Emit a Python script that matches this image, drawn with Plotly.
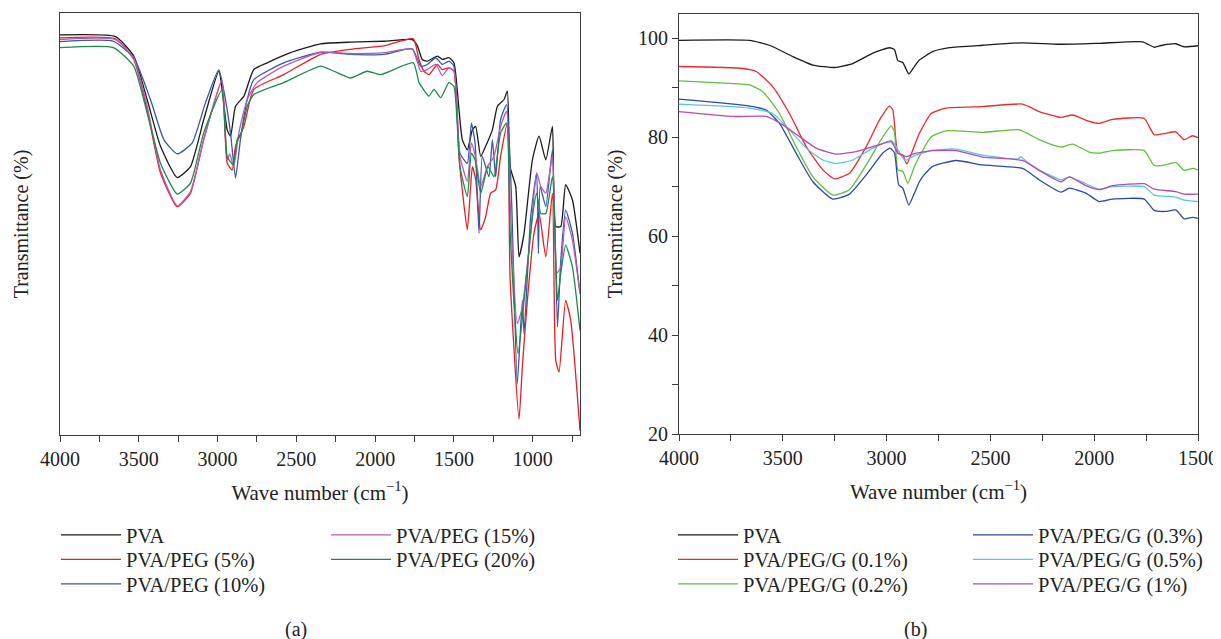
import plotly.graph_objects as go

# ---------------- Panel (a) data (relative transmittance, arbitrary scale) ----------------
a_pva_wn = [4000,3648,3532,3447,3362,3256,3172,3088,2992,2939,2918,2886,2833,2770,2685,2537,2346,2156,1944,1764,
            1732,1701,1669,1605,1574,1532,1500,1468,1447,1415,1383,1362,1330,1299,1256,1224,1182,1161,1144,1108,
            1087,1055,1002,960,917,875,854,822,791,748,700]
a_pva_t = [94.8,94.4,89.8,79.5,68.4,61.0,63.6,74.7,86.2,72.3,70.8,77.9,80.3,86.6,88.2,90.6,92.7,93.1,93.3,93.7,
           92.2,89.0,88.6,89.8,89.0,89.4,88.2,77.1,70.0,67.6,72.3,73.1,66.0,68.4,72.3,77.9,79.5,81.5,63.6,58.9,
           42.2,47.8,65.2,70.8,65.2,73.1,49.4,49.4,59.3,55.7,43.1]

a_peg5_wn = [4000,3648,3532,3447,3362,3256,3172,3088,2973,2939,2907,2886,2833,2770,2580,2346,2156,1944,1758,1722,
             1690,1659,1605,1574,1532,1500,1468,1440,1415,1394,1383,1362,1330,1299,1267,1235,1204,1161,1144,1087,
             1066,1034,992,960,917,875,854,833,791,759,700]
a_peg5_t = [94.1,93.9,89.0,77.1,62.1,54.1,57.3,70.0,83.8,64.4,62.8,68.4,73.1,81.9,85.4,90.2,91.4,92.2,93.9,89.0,
            86.2,85.4,87.8,86.6,87.0,86.2,66.0,55.7,48.6,58.9,63.6,60.5,48.6,51.7,57.3,58.1,66.0,73.9,37.5,3.8,
            16.1,31.9,47.8,52.5,42.2,57.3,17.7,14.9,31.9,27.2,1.0]

a_peg10_wn = [4000,3661,3532,3426,3341,3256,3161,3077,2992,2950,2918,2886,2855,2812,2770,2580,2346,2156,1944,1764,
              1711,1669,1616,1574,1532,1500,1462,1415,1389,1366,1341,1320,1278,1256,1235,1204,1166,1135,1098,1066,
              1055,1013,975,964,953,917,875,843,822,791,748,700]
a_peg10_t = [93.2,93.3,89.4,79.5,70.0,66.6,69.2,78.7,86.6,79.5,71.6,60.9,70.0,79.5,84.2,88.2,90.7,90.2,90.2,91.5,
             87.4,87.8,89.4,87.8,88.6,87.4,66.8,64.4,73.9,69.2,47.8,66.0,61.2,70.0,61.2,74.7,78.3,56.5,12.1,31.9,
             24.0,51.7,62.1,43.0,58.9,54.1,67.6,25.6,41.4,53.3,47.8,33.5]

a_peg15_wn = [4000,3648,3532,3447,3362,3256,3172,3088,2973,2939,2923,2897,2865,2812,2749,2580,2346,2156,1944,1764,
              1711,1669,1616,1574,1532,1500,1462,1415,1389,1366,1330,1288,1246,1204,1166,1144,1098,1066,1013,975,
              949,917,875,848,822,791,748,700]
a_peg15_t = [93.7,93.7,89.2,77.9,62.8,54.3,57.7,70.0,84.2,65.2,66.6,63.6,71.6,79.5,83.5,87.4,90.7,90.4,90.6,91.4,
             86.2,86.6,87.8,85.2,87.0,86.2,66.0,60.1,69.2,66.4,58.9,63.6,66.0,73.1,76.7,55.7,26.4,30.3,47.8,62.1,
             58.9,57.3,66.0,38.3,39.8,51.7,46.2,33.5]

a_peg20_wn = [4000,3661,3532,3447,3362,3256,3172,3088,2973,2939,2901,2876,2850,2812,2770,2580,2346,2262,2156,2050,
              1965,1758,1722,1701,1659,1626,1584,1532,1500,1462,1415,1389,1366,1330,1284,1246,1204,1166,1144,1093,
              1055,1002,975,949,917,875,843,822,791,748,700]
a_peg20_t = [91.8,91.8,87.4,76.3,64.4,57.1,59.7,71.6,81.7,66.0,64.0,70.0,71.6,77.9,80.7,83.5,87.4,86.2,84.6,86.2,
             85.4,88.2,83.5,82.3,80.3,81.9,79.9,83.5,82.6,63.6,56.5,66.8,65.2,57.3,63.6,61.2,71.6,73.9,48.6,19.3,
             31.9,51.7,57.3,52.5,52.5,61.2,31.9,38.3,45.0,39.8,24.8]

# ---------------- Panel (b) data (Transmittance %) ----------------
b_pva_wn = [4000,3660,3564,3451,3355,3251,3163,3066,2986,2962,2946,2922,2893,2866,2842,2778,2698,2537,2345,2168,
            1976,1767,1711,1671,1607,1567,1500]
b_pva_t = [99.6,99.6,98.6,96.3,94.6,94.1,94.9,97.0,98.1,97.7,95.5,95.1,92.8,94.3,95.6,97.3,98.1,98.6,99.1,98.8,
           99.0,99.3,98.2,98.6,98.9,98.3,98.5]

b_g01_wn = [4000,3692,3628,3548,3468,3387,3307,3251,3179,3098,3034,2986,2970,2946,2922,2903,2874,2842,2785,2713,
            2537,2345,2265,2160,2104,2024,1976,1912,1759,1711,1655,1607,1567,1527,1500]
b_g01_t = [94.3,93.9,93.3,90.2,84.8,78.1,73.4,71.6,72.7,78.1,83.5,86.3,85.5,76.8,76.4,74.6,77.4,80.8,84.8,85.9,
           86.2,86.7,85.2,84.0,84.5,83.2,82.8,83.6,83.8,80.5,80.8,81.1,79.5,80.3,79.9]

b_g02_wn = [4000,3754,3660,3596,3516,3436,3355,3259,3179,3098,3018,2978,2962,2946,2922,2898,2866,2842,2785,2713,
            2537,2361,2265,2160,2104,2024,1976,1912,1759,1711,1655,1607,1567,1527,1500]
b_g02_t = [91.4,90.9,90.6,89.2,84.8,78.1,72.0,68.3,69.4,74.4,80.1,82.3,81.1,73.4,73.1,70.7,74.1,76.1,80.1,81.3,
           81.0,81.5,79.5,78.0,78.6,77.0,76.8,77.3,77.3,74.3,74.4,74.9,73.3,73.7,73.4]

b_g03_wn = [4000,3660,3580,3516,3436,3355,3259,3179,3098,3018,2983,2962,2942,2922,2893,2866,2842,2827,2778,2666,
            2537,2345,2265,2160,2120,2040,1976,1912,1759,1711,1655,1607,1567,1527,1500]
b_g03_t = [87.7,86.3,85.5,82.8,76.8,71.0,67.5,68.5,72.4,76.8,77.8,76.8,70.4,69.7,66.3,68.7,71.0,72.0,74.1,75.3,
           74.4,73.7,71.4,68.9,69.7,68.7,67.0,67.5,67.5,65.2,65.0,65.3,63.5,63.8,63.6]

b_g05_wn = [4000,3660,3548,3468,3387,3307,3243,3163,3066,2978,2954,2926,2910,2874,2842,2778,2666,2537,2369,2353,
            2329,2265,2160,2120,2040,1976,1912,1759,1711,1607,1567,1500]
b_g05_t = [86.7,85.9,84.8,81.5,77.8,75.4,74.7,75.4,77.8,79.3,78.1,76.1,75.3,76.1,76.6,77.4,77.6,76.4,75.6,76.1,
           75.2,73.4,71.4,72.0,70.6,69.5,70.0,70.0,68.3,67.9,67.3,67.0]

b_g1_wn = [4000,3738,3580,3500,3419,3339,3243,3147,3050,2978,2946,2903,2874,2842,2778,2666,2537,2345,2265,2160,
           2120,2040,1976,1912,1759,1711,1607,1567,1500]
b_g1_t = [85.2,84.2,84.2,82.5,80.1,77.8,76.6,77.1,78.3,79.1,76.8,76.1,76.6,76.9,77.3,77.3,76.0,75.3,73.3,71.0,
          72.0,70.2,69.4,70.2,70.6,69.5,69.0,68.5,68.5]

names_a = ["PVA", "PVA/PEG (5%)", "PVA/PEG (10%)", "PVA/PEG (15%)", "PVA/PEG (20%)"]
names_b = ["PVA", "PVA/PEG/G (0.1%)", "PVA/PEG/G (0.2%)", "PVA/PEG/G (0.3%)", "PVA/PEG/G (0.5%)", "PVA/PEG/G (1%)"]
x_ticks_a = [4000, 3500, 3000, 2500, 2000, 1500, 1000]
x_ticks_b = [4000, 3500, 3000, 2500, 2000, 1500]
y_ticks_b = [20, 40, 60, 80, 100]

colors_a = ["#1a1a1a", "#ec1c24", "#3a56a8", "#b55db4", "#1b8a4c"]
colors_b = ["#1a1a1a", "#f0282a", "#62bd3e", "#2b49a6", "#58c6dd", "#b84aa9"]

FONT = "Liberation Serif"
TXT = "#222"
AX = "#3a3a3a"
# The page body keeps its default 8 px margin, so the figure is drawn 8 px in from the window corner.
OFF = 8
W, H = 1221 - OFF, 639 - OFF


def px(x):
    return (x - OFF) / W


def py(y):
    return 1 - (y - OFF) / H


# legend slot (left x, row centre y) in window pixels for every entry, two columns per panel
ROWS = [535, 559.5, 584]
slots_a = [(56, ROWS[0]), (56, ROWS[1]), (56, ROWS[2]), (326, ROWS[0]), (326, ROWS[1])]
slots_b = [(673, ROWS[0]), (673, ROWS[1]), (673, ROWS[2]), (968, ROWS[0]), (968, ROWS[1]), (968, ROWS[2])]

fig = go.Figure()
legend_layout = {}
k = 0

series_a = [(a_pva_wn, a_pva_t), (a_peg5_wn, a_peg5_t), (a_peg10_wn, a_peg10_t),
            (a_peg15_wn, a_peg15_t), (a_peg20_wn, a_peg20_t)]
series_b = [(b_pva_wn, b_pva_t), (b_g01_wn, b_g01_t), (b_g02_wn, b_g02_t),
            (b_g03_wn, b_g03_t), (b_g05_wn, b_g05_t), (b_g1_wn, b_g1_t)]

for series, names, colors, slots, xa, ya in [
        (series_a, names_a, colors_a, slots_a, "x", "y"),
        (series_b, names_b, colors_b, slots_b, "x2", "y2")]:
    for (x, y), nm, c, (lx, ly) in zip(series, names, colors, slots):
        k += 1
        lg = "legend" if k == 1 else f"legend{k}"
        fig.add_trace(go.Scatter(x=x, y=y, name=nm, mode="lines", showlegend=True,
                                 line=dict(color=c, width=1.3, shape="spline", smoothing=0.5),
                                 xaxis=xa, yaxis=ya, legend=lg))
        legend_layout[lg] = dict(x=px(lx), y=py(ly), xanchor="left", yanchor="middle",
                                 itemwidth=60, font=dict(family=FONT, size=20.5, color=TXT),
                                 bgcolor="rgba(0,0,0,0)")

axis_common = dict(showline=True, mirror=True, linecolor=AX, linewidth=1.2, automargin=False,
                   showgrid=False, zeroline=False, tickfont=dict(family=FONT, size=20, color=TXT))
tick_common = dict(ticks="outside", ticklen=6, tickwidth=1.2, tickcolor=AX)

fig.update_layout(
    width=W, height=H, margin=dict(l=0, r=0, t=0, b=0, autoexpand=False),
    showlegend=True,
    paper_bgcolor="white", plot_bgcolor="white",
    font=dict(family=FONT, size=20, color=TXT),
    xaxis=dict(domain=[px(60), px(580)], range=[4000, 700], tickvals=x_ticks_a,
               minor=dict(dtick=250, tick0=0, **tick_common),
               title=dict(text="Wave number (cm<sup>−1</sup>)", standoff=16,
                          font=dict(family=FONT, size=21, color=TXT)),
               anchor="y", **tick_common, **axis_common),
    yaxis=dict(domain=[py(435), py(13)], range=[0, 100], showticklabels=False, ticks="",
               title=dict(text="Transmittance (%)", standoff=24,
                          font=dict(family=FONT, size=20, color=TXT)),
               anchor="x", **axis_common),
    xaxis2=dict(domain=[px(679), px(1198)], range=[4000, 1500], tickvals=x_ticks_b,
                minor=dict(dtick=250, tick0=0, **tick_common),
                title=dict(text="Wave number (cm<sup>−1</sup>)", standoff=16,
                           font=dict(family=FONT, size=21, color=TXT)),
                anchor="y2", **tick_common, **axis_common),
    yaxis2=dict(domain=[py(434), py(13.6)], range=[20, 105], tickvals=y_ticks_b,
                minor=dict(dtick=10, tick0=0, **tick_common),
                title=dict(text="Transmittance (%)", standoff=9,
                           font=dict(family=FONT, size=20, color=TXT)),
                anchor="x2", **tick_common, **axis_common),
    annotations=[
        dict(text="(a)", x=px(296), y=py(629), xref="paper", yref="paper", showarrow=False,
             xanchor="center", yanchor="middle", font=dict(family=FONT, size=20, color=TXT)),
        dict(text="(b)", x=px(915), y=py(629), xref="paper", yref="paper", showarrow=False,
             xanchor="center", yanchor="middle", font=dict(family=FONT, size=20, color=TXT)),
    ],
    **legend_layout,
)

fig.write_html("out.html")
